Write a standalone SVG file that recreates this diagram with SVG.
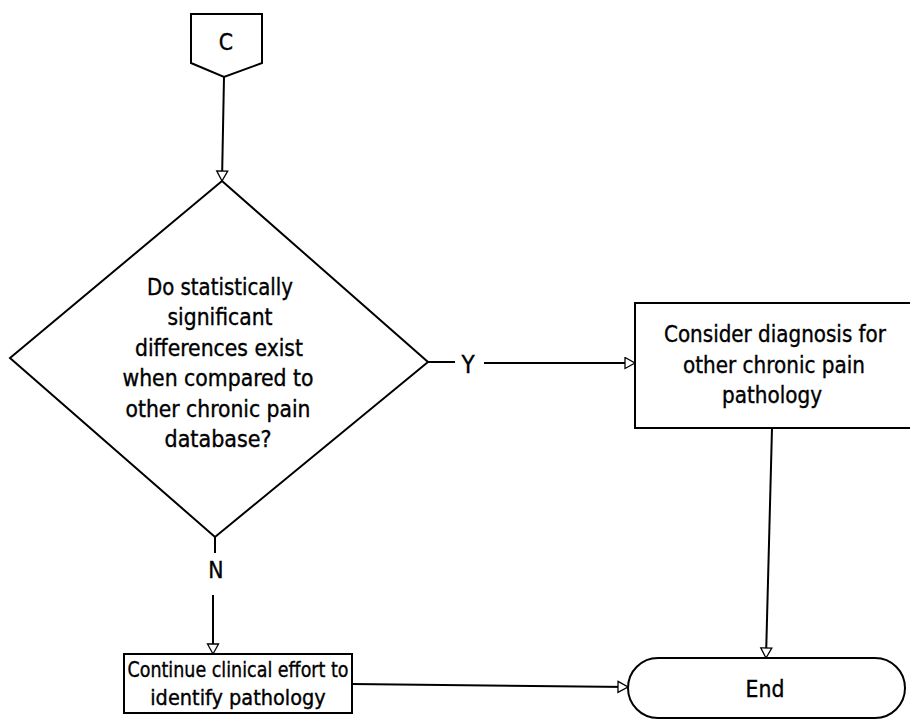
<svg xmlns="http://www.w3.org/2000/svg" width="910" height="720" viewBox="0 0 910 720">
<style>
.shape{fill:#fff;stroke:#000;stroke-width:2}
.t{font-family:"DejaVu Sans Condensed","DejaVu Sans",sans-serif;font-stretch:condensed;font-size:22.7px;fill:#000;stroke:#000;stroke-width:0.35;text-anchor:middle}
.s{font-size:21.5px}
.c{fill:none;stroke:#000;stroke-width:2}
</style>
<defs>
<marker id="ah" markerUnits="userSpaceOnUse" markerWidth="14" markerHeight="14" refX="11" refY="6.5" orient="auto">
<path d="M1,1 L11,6.5 L1,12 Z" fill="#fff" stroke="#000" stroke-width="1.3"/>
</marker>
</defs>
<rect width="910" height="720" fill="#fff"/>
<g id="connectors">
<line class="c" x1="224" y1="77" x2="222" y2="181" marker-end="url(#ah)"/>
<line class="c" x1="428" y1="362" x2="455" y2="362"/>
<line class="c" x1="484" y1="363" x2="635" y2="363" marker-end="url(#ah)"/>
<line class="c" x1="215" y1="537" x2="215" y2="553"/>
<line class="c" x1="213" y1="595" x2="213" y2="654" marker-end="url(#ah)"/>
<line class="c" x1="772" y1="428" x2="766" y2="658" marker-end="url(#ah)"/>
<line class="c" x1="352" y1="684" x2="628" y2="687" marker-end="url(#ah)"/>
<text class="t" x="468" y="373" style="font-size:24px">Y</text>
<text class="t" x="216" y="578">N</text>
</g>
<g id="nodeC">
<path class="shape" d="M191,14 L262,14 L262,63 L224,77 L191,63 Z"/>
<text class="t" x="226" y="50">C</text>
</g>
<g id="decision">
<path class="shape" d="M222,181 L428,362 L215,537 L10,358 Z"/>
<text class="t" x="220" y="295" textLength="146" lengthAdjust="spacingAndGlyphs">Do statistically</text>
<text class="t" x="220" y="325" textLength="105" lengthAdjust="spacingAndGlyphs">significant</text>
<text class="t" x="219" y="356" textLength="168" lengthAdjust="spacingAndGlyphs">differences exist</text>
<text class="t" x="218" y="386" textLength="191" lengthAdjust="spacingAndGlyphs">when compared to</text>
<text class="t" x="218" y="417" textLength="185" lengthAdjust="spacingAndGlyphs">other chronic pain</text>
<text class="t" x="218" y="447" textLength="107" lengthAdjust="spacingAndGlyphs">database?</text>
</g>
<g id="consider">
<path class="shape" d="M635,303 L915,303 L915,428 L635,428 Z"/>
<text class="t" x="775" y="342" textLength="222" lengthAdjust="spacingAndGlyphs">Consider diagnosis for</text>
<text class="t" x="774" y="373" textLength="182" lengthAdjust="spacingAndGlyphs">other chronic pain</text>
<text class="t" x="772" y="403" textLength="100" lengthAdjust="spacingAndGlyphs">pathology</text>
</g>
<g id="continue">
<rect class="shape" x="124" y="654" width="228" height="59"/>
<text class="t s" x="238" y="677" textLength="221" lengthAdjust="spacingAndGlyphs">Continue clinical effort to</text>
<text class="t s" x="238" y="705">identify pathology</text>
</g>
<g id="end">
<rect class="shape" x="628" y="658" width="277" height="60" rx="30" ry="30"/>
<text class="t" x="765" y="697">End</text>
</g>
</svg>
